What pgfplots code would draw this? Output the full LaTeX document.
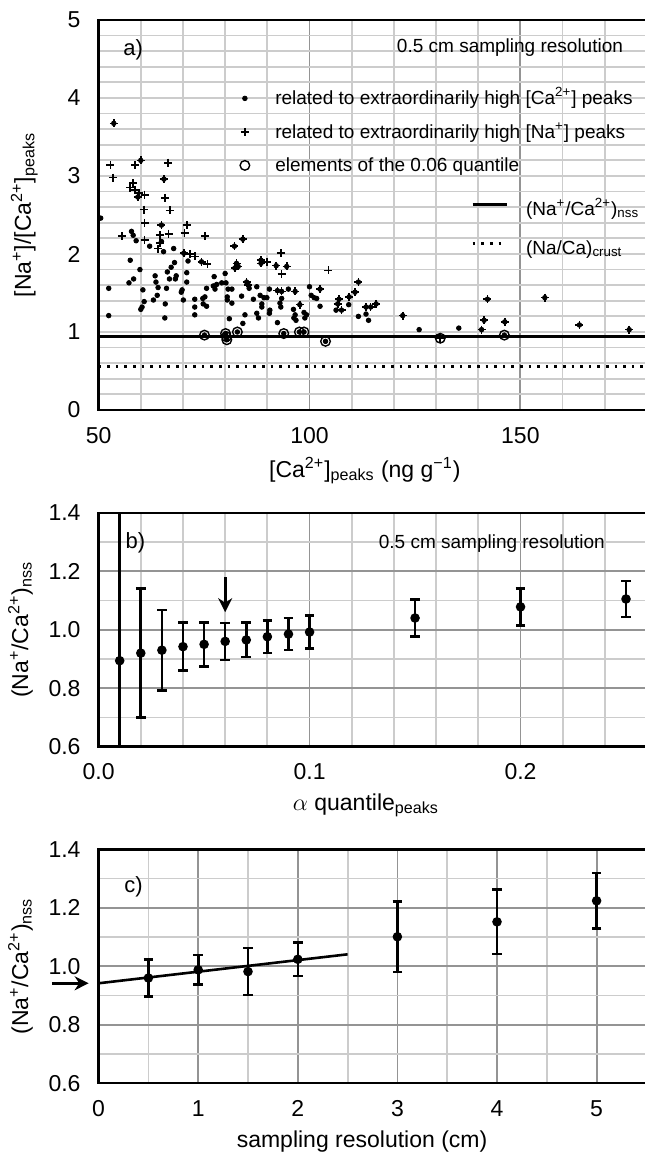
\documentclass[border=0pt]{standalone}
\usepackage{fontspec}
\setmainfont{Liberation Sans}
\usepackage{pgfplots}
\pgfplotsset{compat=1.18}
\usetikzlibrary{arrows.meta}

\definecolor{gminor}{gray}{0.80}
\definecolor{gmajor}{gray}{0.58}

\tikzset{arr/.style={-{Stealth[length=7pt,width=7pt]}, line width=1.4pt}}

\pgfplotsset{
  panel/.style={
    scale only axis, width=275pt,
    axis line style={line width=1.2pt, black},
    major tick length=0pt, minor tick length=0pt,
    minor grid style={gminor, line width=0.9pt},
    major grid style={gmajor, line width=0.9pt},
    tick label style={font=\fontsize{11.5}{13}\selectfont},
    label style={font=\fontsize{11.5}{14}\selectfont},
    /pgf/number format/assume math mode=true,
    xticklabel shift=5pt, yticklabel shift=5.5pt,
    clip mode=individual,
  },
  dec1/.style={/pgf/number format/.cd, fixed, fixed zerofill, precision=1},
  errpts/.style={black, mark=*, mark size=1.7pt, line width=1.3pt, only marks,
    error bars/.cd, y dir=both, y explicit,
    error bar style={line width=1.3pt},
    error mark options={line width=1.3pt, mark size=2.4pt, rotate=90}},
  cadot/.style={only marks, mark=*, mark size=1.15pt, black},
  naplus/.style={only marks, mark=+, mark size=2pt, black, mark options={line width=0.8pt}},
  qcirc/.style={only marks, mark=o, mark size=2.4pt, black, mark options={line width=0.7pt}},
}

\begin{document}
\begin{tikzpicture}

% ---------------- a) ----------------
\begin{axis}[panel, at={(49.3pt,371pt)}, anchor=south west, height=195pt,
  xmin=50, xmax=180.4, ymin=0, ymax=5,
  xtick={50,100,150}, minor xtick={60,70,80,90,110,120,130,140,160,170,180},
  ytick={0,1,2,3,4,5},
  minor ytick={0.2,0.4,0.6,0.8,1,1.2,1.4,1.6,1.8,2,2.2,2.4,2.6,2.8,3,3.2,3.4,3.6,3.8,4,4.2,4.4,4.6,4.8},
  xmajorgrids, xminorgrids, ymajorgrids=false, yminorgrids,
  xlabel={[Ca\textsuperscript{2+}]\textsubscript{peaks} (ng g\textsuperscript{−1})},
  ylabel={[Na\textsuperscript{+}]/[Ca\textsuperscript{2+}]\textsubscript{peaks}},
  xlabel style={at={(axis description cs:0.484,-0.156)}, anchor=center},
  ylabel style={at={(axis description cs:-0.135,0.5)}, anchor=center},
  legend style={at={(axis cs:80.7,4.10)}, anchor=north west, draw=none, fill=none,
    inner sep=0pt, row sep=7.75pt, column sep=7pt,
    nodes={inner sep=0pt, text height=7pt, text depth=2pt},
    font=\fontsize{9.5}{11}\selectfont},
  legend cell align=left,
  legend image code/.code={\path (0pt,0pt) (16pt,0pt); \draw[#1] plot coordinates {(8pt,0.6pt)};},
]
% nss and crust ratios
\addplot[black, line width=1.3pt, forget plot] coordinates {(50,0.94) (180.4,0.94)};
\addplot[black, line width=1.3pt, dash pattern=on 1.3pt off 3pt, forget plot] coordinates {(50,0.555) (180.4,0.555)};

% peaks related to high Ca only (incl. those inside the quantile circles)
\addplot[cadot] coordinates {
 (50.5,2.46) (52.4,1.56) (52.4,1.21) (57.8,2.29) (58.2,2.24) (58.9,2.17) (62.1,2.10)
 (64.9,2.16) (65.4,2.03) (67.8,2.07) (71.2,1.91) (57.5,1.92) (68.0,1.89) (67.2,1.83)
 (59.8,1.80) (66.3,1.77) (70.9,1.76) (63.4,1.72) (68.4,1.72) (68.2,1.68) (66.8,1.68)
 (58.3,1.68) (57.2,1.63) (63.6,1.64) (70.9,1.64) (64.1,1.57) (60.5,1.54) (66.1,1.56)
 (69.8,1.54) (69.6,1.51) (63.9,1.47) (72.8,1.42) (63.0,1.41) (60.8,1.39) (65.8,1.36)
 (70.1,1.41) (60.3,1.32) (60.0,1.29) (72.8,1.32) (65.7,1.18) (72.8,1.22)
 (80.0,1.75) (77.4,1.71) (79.2,1.63) (80.2,1.63) (78.0,1.61) (77.2,1.59) (77.6,1.55)
 (87.5,1.58) (80.7,1.55) (81.6,1.55) (85.7,1.56) (90.5,1.55) (95.0,1.55) (75.6,1.56)
 (75.2,1.45) (74.7,1.43) (83.9,1.46) (80.5,1.45) (88.3,1.47) (89.2,1.44) (89.9,1.44)
 (86.7,1.42) (93.4,1.43) (80.5,1.41) (81.6,1.37) (74.8,1.36) (75.6,1.33) (88.7,1.36)
 (88.7,1.32) (93.0,1.37) (93.2,1.32) (90.6,1.28) (90.5,1.24) (96.2,1.29) (84.7,1.22)
 (87.5,1.24) (96.6,1.22) (98.7,1.25) (99.3,1.22) (100.0,1.58) (81.0,1.17) (87.9,1.18)
 (98.9,1.18) (100.4,1.47) (101.1,1.44) (101.7,1.43) (102.5,1.33) (96.3,1.18) (96.8,1.15)
 (106.3,1.28) (109.3,1.35) (111.6,1.20) (113.4,1.23) (114.0,1.15) (126.0,1.03) (135.4,1.05)
 (84.2,1.11) (92.4,1.12)
 (75.1,0.96) (80.1,0.98) (80.3,0.94) (80.4,0.90) (82.9,1.00) (93.9,0.98) (97.6,1.00)
 (98.7,1.00) (103.8,0.88) (146.2,0.96)
};
\addlegendentry{related to extraordinarily high [Ca\textsuperscript{2+}] peaks}

% peaks related to high Na only
\addplot[naplus] coordinates {
 (52.8,3.14) (58.7,3.14) (66.5,3.17) (53.4,2.98) (58.2,2.91) (57.5,2.85) (58.7,2.82)
 (59.6,2.78) (60.9,2.76) (65.8,2.72) (60.7,2.57) (66.9,2.56) (60.9,2.40) (71.0,2.37)
 (55.6,2.23) (64.5,2.24) (66.6,2.26) (70.4,2.27) (60.9,2.18) (64.1,2.07) (64.5,2.14)
 (71.6,2.00) (72.8,1.97) (75.2,2.23) (75.8,1.87) (93.2,2.01) (89.9,1.90) (93.4,1.74)
 (104.5,1.79) (131.0,0.92)
};
\addlegendentry{related to extraordinarily high [Na\textsuperscript{+}] peaks}

% elements of the 0.06 quantile
\addplot[qcirc] coordinates {
 (75.1,0.96) (80.1,0.98) (80.3,0.94) (80.4,0.90) (82.9,1.00) (93.9,0.98) (97.6,1.00)
 (98.7,1.00) (103.8,0.88) (131.0,0.92) (146.2,0.96)
};
\addlegendentry{elements of the 0.06 quantile}

% peaks related to both (dot and plus on top of each other)
\addplot[cadot, forget plot] coordinates {
 (53.6,3.675) (60.0,3.20) (65.5,2.96) (59.3,2.73) (64.9,2.37) (70.2,2.01) (74.4,1.90)
 (82.2,2.10) (84.2,2.19) (82.7,1.88) (83.1,1.84) (82.3,1.82) (88.5,1.92) (88.5,1.88)
 (92.1,1.85) (94.6,1.84) (85.1,1.64) (85.5,1.60) (92.4,1.53) (93.4,1.52) (96.6,1.52)
 (97.7,1.35) (102.5,1.55) (111.6,1.64) (110.8,1.51) (109.4,1.45) (107.0,1.42) (106.7,1.36)
 (107.6,1.28) (113.4,1.32) (114.5,1.32) (115.8,1.36) (122.1,1.21) (142.2,1.42) (141.4,1.15)
 (140.8,1.03) (146.3,1.13) (155.8,1.44) (164.0,1.09) (175.8,1.03)
};
\addplot[naplus, forget plot] coordinates {
 (53.6,3.675) (60.0,3.20) (65.5,2.96) (59.3,2.73) (64.9,2.37) (70.2,2.01) (74.4,1.90)
 (82.2,2.10) (84.2,2.19) (82.7,1.88) (83.1,1.84) (82.3,1.82) (88.5,1.92) (88.5,1.88)
 (92.1,1.85) (94.6,1.84) (85.1,1.64) (85.5,1.60) (92.4,1.53) (93.4,1.52) (96.6,1.52)
 (97.7,1.35) (102.5,1.55) (111.6,1.64) (110.8,1.51) (109.4,1.45) (107.0,1.42) (106.7,1.36)
 (107.6,1.28) (113.4,1.32) (114.5,1.32) (115.8,1.36) (122.1,1.21) (142.2,1.42) (141.4,1.15)
 (140.8,1.03) (146.3,1.13) (155.8,1.44) (164.0,1.09) (175.8,1.03)
};

\node[font=\fontsize{11}{13}\selectfont] at (axis cs:58.2,4.62) {a)};
\node[anchor=east, font=\fontsize{9.5}{11}\selectfont] at (axis cs:176,4.65) {0.5 cm sampling resolution};
\end{axis}

% legend for the two ratio lines (same frame as a)
\begin{axis}[scale only axis, width=275pt, height=195pt, at={(49.3pt,371pt)}, anchor=south west,
  xmin=50, xmax=180.4, ymin=0, ymax=5, hide axis,
  legend style={at={(axis cs:138.3,2.68)}, anchor=north west, draw=none, fill=none,
    inner sep=0pt, row sep=10.5pt, column sep=9pt,
    nodes={inner sep=0pt, text height=7pt, text depth=2pt},
    font=\fontsize{9.5}{11}\selectfont},
  legend cell align=left,
  legend image code/.code={\draw[#1] (0pt,3pt) -- (17pt,3pt);},
]
\addlegendimage{black, line width=1.3pt}
\addlegendentry{(Na\textsuperscript{+}/Ca\textsuperscript{2+})\textsubscript{nss}}
\addlegendimage{black, line width=1.3pt, dash pattern=on 1.3pt off 3pt}
\addlegendentry{(Na/Ca)\textsubscript{crust}}
\end{axis}

% ---------------- b) ----------------
\begin{axis}[panel, at={(49.3pt,202.65pt)}, anchor=south west, height=117pt,
  xmin=0, xmax=0.2607, ymin=0.6, ymax=1.4,
  xtick={0,0.1,0.2}, minor xtick={0.02,0.04,0.06,0.08,0.12,0.14,0.16,0.18,0.22,0.24,0.26},
  ytick={0.6,0.8,1.0,1.2,1.4}, minor ytick={0.7,0.9,1.1,1.3},
  grid=both,
  xticklabel style={dec1}, yticklabel style={dec1},
  xlabel={$\alpha$ quantile\textsubscript{peaks}},
  ylabel={(Na\textsuperscript{+}/Ca\textsuperscript{2+})\textsubscript{nss}},
  xlabel style={at={(axis description cs:0.486,-0.25)}, anchor=center},
  ylabel style={at={(axis description cs:-0.142,0.5)}, anchor=center},
]
\addplot[errpts] coordinates {
 (0.01,0.894) +- (0,0.60)
 (0.02,0.920) +- (0,0.220)
 (0.03,0.930) +- (0,0.137)
 (0.04,0.942) +- (0,0.082)
 (0.05,0.950) +- (0,0.075)
 (0.06,0.960) +- (0,0.063)
 (0.07,0.965) +- (0,0.059)
 (0.08,0.976) +- (0,0.056)
 (0.09,0.985) +- (0,0.055)
 (0.10,0.992) +- (0,0.056)
 (0.15,1.040) +- (0,0.063)
 (0.20,1.078) +- (0,0.063)
 (0.25,1.105) +- (0,0.062)
};
\draw[arr] (axis cs:0.06,1.18) -- (axis cs:0.06,1.06);
\node[font=\fontsize{11}{13}\selectfont] at (axis cs:0.0175,1.296) {b)};
\node[anchor=east, font=\fontsize{9.5}{11}\selectfont] at (axis cs:0.2433,1.295) {0.5 cm sampling resolution};
\end{axis}

% ---------------- c) ----------------
\begin{axis}[panel, at={(49.3pt,34.35pt)}, anchor=south west, height=117pt,
  xmin=0, xmax=5.522, ymin=0.6, ymax=1.4,
  xtick={0,1,2,3,4,5}, minor xtick={0.5,1.5,2.5,3.5,4.5,5.5},
  ytick={0.6,0.8,1.0,1.2,1.4}, minor ytick={0.7,0.9,1.1,1.3},
  grid=both,
  yticklabel style={dec1},
  xlabel={sampling resolution (cm)},
  ylabel={(Na\textsuperscript{+}/Ca\textsuperscript{2+})\textsubscript{nss}},
  xlabel style={at={(axis description cs:0.479,-0.25)}, anchor=center},
  ylabel style={at={(axis description cs:-0.142,0.5)}, anchor=center},
]
\addplot[black, line width=1.3pt] coordinates {(0,0.942) (2.5,1.041)};
\addplot[errpts] coordinates {
 (0.5,0.960) +- (0,0.063)
 (1.0,0.988) +- (0,0.050)
 (1.5,0.982) +- (0,0.080)
 (2.0,1.024) +- (0,0.057)
 (3.0,1.101) +- (0,0.120)
 (4.0,1.152) +- (0,0.110)
 (5.0,1.224) +- (0,0.095)
};
\draw[arr] (axis cs:-0.47,0.942) -- (axis cs:-0.1,0.942);
\node[font=\fontsize{11}{13}\selectfont] at (axis cs:0.35,1.272) {c)};
\end{axis}

\pgfresetboundingbox
\useasboundingbox (0,0) rectangle (322pt,576pt);
\end{tikzpicture}
\end{document}
